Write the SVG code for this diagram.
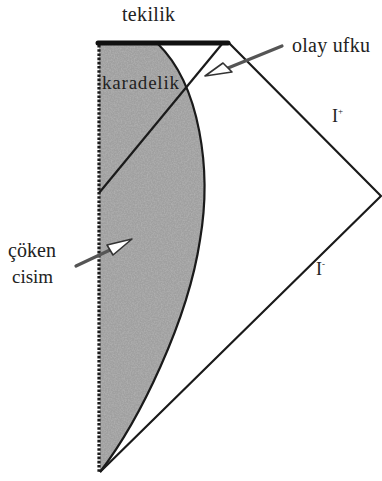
<svg xmlns="http://www.w3.org/2000/svg" width="382" height="481" viewBox="0 0 382 481">
<defs>
<filter id="grain" x="0" y="0" width="100%" height="100%">
<feTurbulence type="fractalNoise" baseFrequency="0.7" numOctaves="2" seed="3" result="n"/>
<feColorMatrix in="n" type="matrix" values="0 0 0 0 0.45  0 0 0 0 0.45  0 0 0 0 0.45  0 0 0 1.6 -0.55" result="g"/>
<feComposite in="g" in2="SourceGraphic" operator="in" result="gc"/>
<feMerge><feMergeNode in="SourceGraphic"/><feMergeNode in="gc"/></feMerge>
</filter>
</defs>
<style>
.ln{fill:none;stroke:#1a1a1a;stroke-width:2.2}
.shaft{stroke:#555;stroke-width:3.2;stroke-linecap:round}
.head{fill:#fff;stroke:#333;stroke-width:1.6;stroke-linejoin:round}
</style>
<rect width="382" height="481" fill="#fff"/>
<g id="cisim">
<path d="M99,44 L158,44 C200,85 212,170 200,240 C188,320 140,420 100,472 Z" fill="#a0a0a0" filter="url(#grain)"/>
<path class="ln" d="M158,44 C200,85 212,170 200,240 C188,320 140,420 100,472"/>
</g>
<g id="cizgiler">
<line x1="99" y1="45" x2="99" y2="472" stroke="#1a1a1a" stroke-width="3.2" stroke-dasharray="2.6 1.6"/>
<polyline class="ln" points="229,43 381,196 100,472"/>
<line class="ln" x1="222" y1="44" x2="99" y2="193"/>
<line x1="98" y1="43" x2="228" y2="43" stroke="#111" stroke-width="5" stroke-linecap="round"/>
</g>
<g id="oklar">
<line class="shaft" x1="282" y1="46" x2="228" y2="68"/>
<polygon class="head" points="205,76 223,63 232,72"/>
<line class="shaft" x1="76" y1="266" x2="110" y2="250"/>
<polygon class="head" points="132,239 107,245 113,255"/>
</g>
<g id="etiketler" font-family="'Liberation Serif', 'DejaVu Serif', serif" fill="#222">
<text x="122" y="21" font-size="20" textLength="53">tekilik</text>
<text x="292" y="52" font-size="20" textLength="78">olay ufku</text>
<text x="102" y="89" font-size="19" textLength="77">karadelik</text>
<text x="8" y="257" font-size="20" textLength="48">çöken</text>
<text x="12" y="283" font-size="19" textLength="41">cisim</text>
<text x="332" y="122" font-size="18">I<tspan font-size="9" dy="-8">+</tspan></text>
<text x="316" y="275" font-size="18">I<tspan font-size="9" dy="-8">-</tspan></text>
</g>
</svg>
